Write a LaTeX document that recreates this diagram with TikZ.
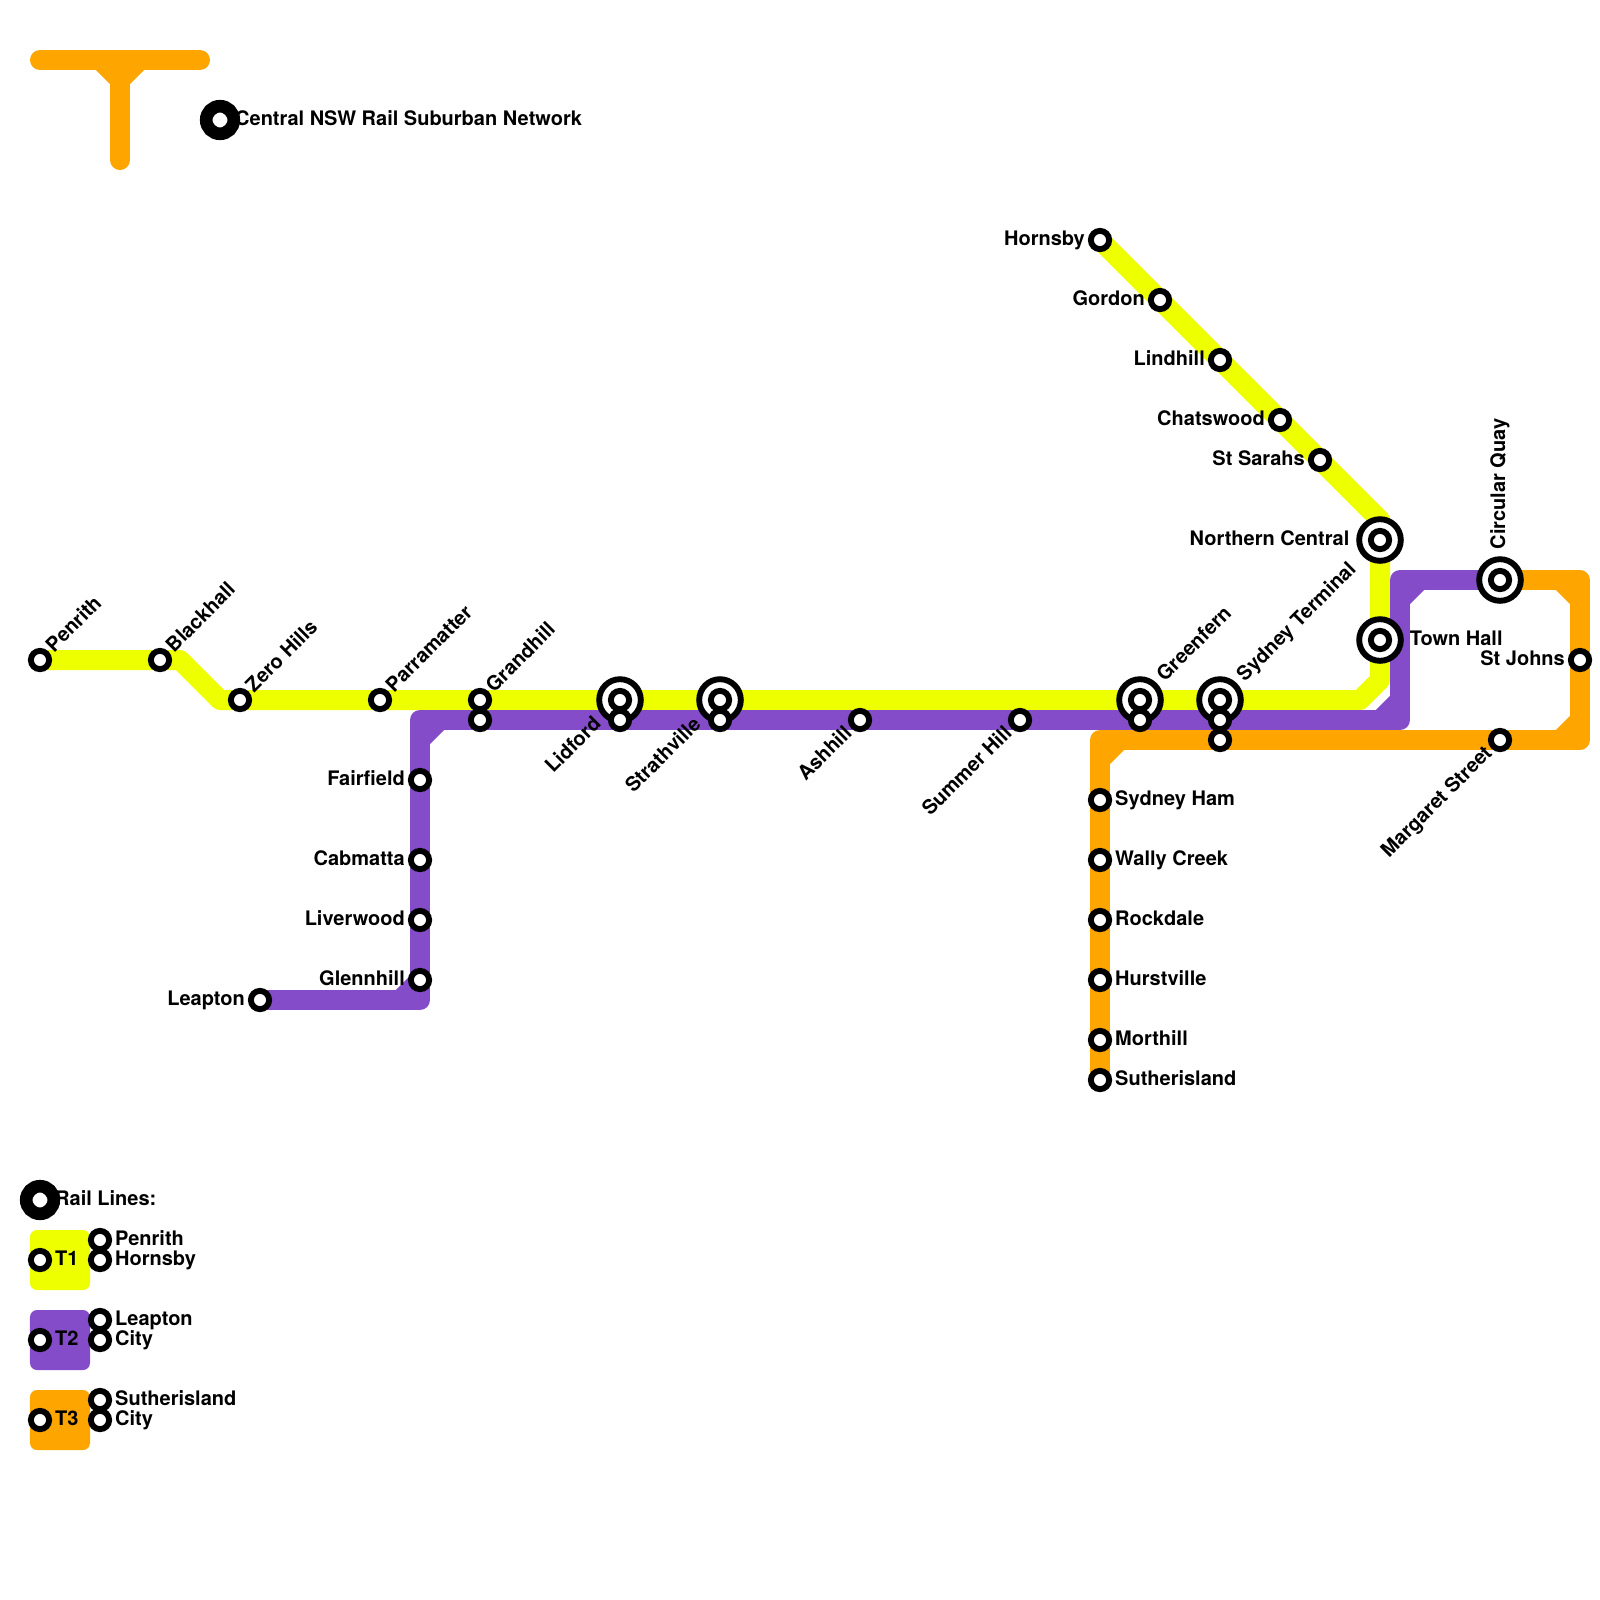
\documentclass[tikz,border=0pt]{standalone}
\usepackage{fontspec}
\setmainfont{TeX Gyre Heros}
\usepackage{tikz}
\usetikzlibrary{backgrounds}
\definecolor{t1clr}{RGB}{238, 255, 0}
\definecolor{t2clr}{RGB}{132, 76, 200}
\definecolor{t3clr}{RGB}{255, 165, 0}
\tikzset{
  stn/.style    = {circle, draw=black, fill=white, line width=4.2pt,
                   minimum size=13pt, inner sep=0pt, outer sep=0pt},
  ring/.style   = {circle, draw=black, fill=white, line width=4.2pt,
                   minimum size=29.6pt, inner sep=0pt, outer sep=0pt},
  blob/.style   = {circle, draw=black, fill=white, line width=9pt,
                   minimum size=19.6pt, inner sep=0pt, outer sep=0pt},
  rail/.style   = {line width=14.23pt, line cap=round, line join=round},
  lgbox/.style  = {rounded corners=5pt, minimum size=42.68pt, inner sep=0pt},
  lbl/.style    = {font=\fontsize{14.23}{16}\selectfont\bfseries, inner sep=0pt},
  lble/.style   = {lbl, anchor=base west, xshift=#1, yshift=-3.7pt},
  lblw/.style   = {lbl, anchor=base east, xshift=-#1, yshift=-3.7pt},
  lblne/.style  = {lbl, anchor=base west, rotate=45, xshift=#1, yshift=-3.7pt},
  lblsw/.style  = {lbl, anchor=base east, rotate=45, xshift=-#1, yshift=-3.7pt},
  lbln/.style   = {lbl, anchor=base west, rotate=90, xshift=#1, yshift=-3.7pt},
}
\begin{document}
\begin{tikzpicture}[x=0.5cm,y=-0.5cm]
        \useasboundingbox (0,0) rectangle (80,80);

        % -- Legend boxes ----------------------------------------------
        \foreach \i/\clr/\y in {1/t1clr/63, 2/t2clr/67, 3/t3clr/71}{
            \node[lgbox, fill=\clr] (lgbox\i) at (3,\y) {};
        }

        % -- Interchange rings -----------------------------------------
        \foreach \n/\x/\y in {lidfordRing/31/35, strathvilleRing/36/35,
                              greenfernRing/57/35, terminalRing/61/35,
                              northernRing/69/27, townhallRing/69/32,
                              circularRing/75/29}{
            \node[ring] (\n) at (\x,\y) {};
        }

        % -- Stations --------------------------------------------------
        \foreach \n/\x/\y in {penrith/2/33, blackhall/8/33, zerohills/12/35,
                              parramatter/19/35, grandhill/24/35, grandhillB/24/36,
                              lidford/31/35, lidfordB/31/36,
                              strathville/36/35, strathvilleB/36/36,
                              ashhill/43/36, summerhill/51/36,
                              greenfern/57/35, greenfernB/57/36,
                              terminal/61/35, terminalB/61/36, terminalC/61/37,
                              hornsby/55/12, gordon/58/15, lindhill/61/18,
                              chatswood/64/21, stsarahs/66/23,
                              northern/69/27, townhall/69/32, circular/75/29,
                              stjohns/79/33, margaret/75/37,
                              fairfield/21/39, cabmatta/21/43, liverwood/21/46,
                              glennhill/21/49, leapton/13/50,
                              sydneyham/55/40, wallycreek/55/43, rockdale/55/46,
                              hurstville/55/49, morthill/55/52, sutherisland/55/54,
                              lgT1/2/63, lgT1a/5/62, lgT1b/5/63,
                              lgT2/2/67, lgT2a/5/66, lgT2b/5/67,
                              lgT3/2/71, lgT3a/5/70, lgT3b/5/71}{
            \node[stn] (\n) at (\x,\y) {};
        }
        \node[blob] (titleDot) at (11,6) {};
        \node[blob] (legendDot) at (2,60) {};

        % -- Labels ----------------------------------------------------
        \foreach \n/\s/\g/\t in {penrith/lblne/10.4pt/Penrith, blackhall/lblne/10.4pt/Blackhall,
                                 zerohills/lblne/10.4pt/Zero Hills, parramatter/lblne/10.4pt/Parramatter,
                                 grandhill/lblne/10.4pt/Grandhill,
                                 lidford/lblsw/21.6pt/Lidford, strathville/lblsw/21.6pt/Strathville,
                                 ashhill/lblsw/10.6pt/Ashhill, summerhill/lblsw/10.6pt/Summer Hill,
                                 greenfern/lblne/21.2pt/Greenfern, terminal/lblne/21.2pt/Sydney Terminal,
                                 hornsby/lblw/10.6pt/Hornsby, gordon/lblw/10.6pt/Gordon,
                                 lindhill/lblw/10.6pt/Lindhill, chatswood/lblw/10.6pt/Chatswood,
                                 stsarahs/lblw/10.6pt/St Sarahs, northern/lblw/21.6pt/Northern Central,
                                 townhall/lble/21pt/Town Hall, circular/lbln/21.6pt/Circular Quay,
                                 stjohns/lblw/10.6pt/St Johns, margaret/lblsw/10.6pt/Margaret Street,
                                 fairfield/lblw/10.6pt/Fairfield, cabmatta/lblw/10.6pt/Cabmatta,
                                 liverwood/lblw/10.6pt/Liverwood, glennhill/lblw/10.6pt/Glennhill,
                                 leapton/lblw/10.6pt/Leapton,
                                 sydneyham/lble/10.6pt/Sydney Ham, wallycreek/lble/10.6pt/Wally Creek,
                                 rockdale/lble/10.6pt/Rockdale, hurstville/lble/10.6pt/Hurstville,
                                 morthill/lble/10.6pt/Morthill, sutherisland/lble/10.6pt/Sutherisland,
                                 titleDot/lble/10.6pt/Central NSW Rail Suburban Network,
                                 legendDot/lble/10.6pt/Rail Lines:,
                                 lgT1/lble/10.6pt/T1, lgT1a/lble/10.6pt/Penrith, lgT1b/lble/10.6pt/Hornsby,
                                 lgT2/lble/10.6pt/T2, lgT2a/lble/10.6pt/Leapton, lgT2b/lble/10.6pt/City,
                                 lgT3/lble/10.6pt/T3, lgT3a/lble/10.6pt/Sutherisland, lgT3b/lble/10.6pt/City}{
            \node[\s=\g] (\n-lbl) at (\n) {\t};
        }

        % -- Bends -----------------------------------------------------
        \foreach \n/\x/\y in {logoL/2/3, logoR/10/3, logoT/6/3, logoB/6/8,
                              logoA/5/3, logoC/6/4, logoD/7/3,
                              t1a/9/33, t1b/11/35, t1c/68/35, t1d/69/34, t1e/69/26,
                              t2a/20/50, t2b/21/50, t2c/21/49,
                              t2d/21/37, t2e/21/36, t2f/22/36,
                              t2g/69/36, t2h/70/36, t2i/70/35,
                              t2j/70/30, t2k/70/29, t2l/71/29,
                              t3a/78/29, t3b/79/29, t3c/79/30,
                              t3d/79/36, t3e/79/37, t3f/78/37,
                              t3g/56/37, t3h/55/37, t3i/55/38}{
            \coordinate (\n) at (\x,\y);
        }

        % -- Lines -----------------------------------------------------
        \begin{pgfonlayer}{background}
            \draw[rail,t3clr] (logoL) -- (logoR);
            \draw[rail,t3clr] (logoT) -- (logoB);
            \draw[rail,t3clr] (logoA) -- (logoC) -- (logoD);

            \draw[rail,t1clr] (penrith.center) -- (t1a) -- (t1b) -- (t1c) -- (t1d)
                -- (t1e) -- (hornsby.center);

            \draw[rail,t2clr] (leapton.center) -- (t2b) -- (t2e) -- (t2h) -- (t2k)
                -- (circular.center);
            \foreach \a/\b in {t2a/t2c, t2d/t2f, t2g/t2i, t2j/t2l}{
                \draw[rail,t2clr] (\a) -- (\b);
            }

            \draw[rail,t3clr] (circular.center) -- (t3b) -- (t3e) -- (t3h)
                -- (sutherisland.center);
            \foreach \a/\b in {t3a/t3c, t3d/t3f, t3g/t3i}{
                \draw[rail,t3clr] (\a) -- (\b);
            }
        \end{pgfonlayer}
\end{tikzpicture}
\end{document}
